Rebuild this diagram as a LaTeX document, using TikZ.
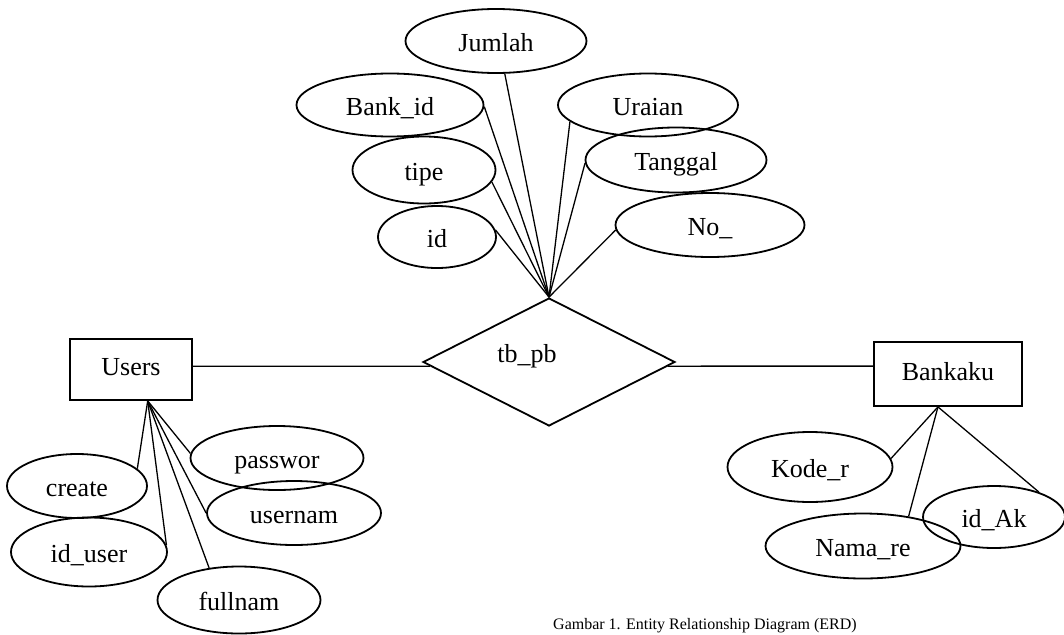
\documentclass[tikz,border=0pt]{standalone}
\usepackage{fontspec}
\setmainfont{Liberation Serif}
\usetikzlibrary{shapes.geometric}
\begin{document}
\begin{tikzpicture}[x=1pt,y=-1pt,
  attr/.style={ellipse,draw,line width=1.8pt,inner sep=0pt,font=\fontsize{26}{30}\selectfont,text height=21pt,text depth=0pt},
  entity/.style={rectangle,draw,line width=1.8pt,inner sep=0pt,font=\fontsize{26}{30}\selectfont,text height=12pt,text depth=0pt},
  relbox/.style={diamond,draw,line width=1.8pt,inner sep=0pt},
  conn/.style={line width=1.3pt},
  lbl/.style={inner sep=0pt,font=\fontsize{26}{30}\selectfont},
  captext/.style={inner sep=0pt,font=\fontsize{16}{19}\selectfont}]
\useasboundingbox (0,0) rectangle (1064,634);
% relationship
\node[relbox,minimum width=252pt,minimum height=128pt] (rel) at (549,362) {};
\node[lbl,anchor=base] (relname) at (527,362) {tb\_pb};
% entities
\node[entity,minimum width=122pt,minimum height=61pt] (users) at (131,369.5) {Users};
\node[entity,minimum width=148pt,minimum height=64pt] (bankaku) at (948,374) {Bankaku};
% attributes of tb_pb
\node[attr,minimum width=181pt,minimum height=64pt] (jumlah) at (496,41) {Jumlah};
\node[attr,minimum width=187pt,minimum height=63pt] (bankid) at (390,105) {Bank\_id};
\node[attr,minimum width=180pt,minimum height=63pt] (uraian) at (648,105) {Uraian};
\node[attr,minimum width=143pt,minimum height=67pt] (tipe) at (424,170) {tipe};
\node[attr,minimum width=181pt,minimum height=65pt] (tanggal) at (676,160) {Tanggal};
\node[attr,minimum width=118pt,minimum height=62pt] (id) at (437,237) {id};
\node[attr,minimum width=189pt,minimum height=64pt] (no) at (710,225) {No\_};
% attributes of Users
\node[attr,minimum width=140pt,minimum height=64pt] (create) at (77,486) {create};
\node[attr,minimum width=156pt,minimum height=69pt] (iduser) at (89,552) {id\_user};
\node[attr,minimum width=163pt,minimum height=67pt] (fullnam) at (239,600) {fullnam};
\node[attr,minimum width=173pt,minimum height=64pt] (passwor) at (277,458) {passwor};
\node[attr,minimum width=174pt,minimum height=64pt] (usernam) at (294,513) {usernam};
% attributes of Bankaku
\node[attr,minimum width=165pt,minimum height=70pt] (koder) at (810,467) {Kode\_r};
\node[attr,minimum width=195pt,minimum height=65pt] (namare) at (863,546) {Nama\_re};
\node[attr,minimum width=142pt,minimum height=62pt] (idak) at (994,517) {id\_Ak};
% caption
\node[captext,anchor=base west] (caption) at (553,629.5) {Gambar 1. Entity Relationship Diagram (ERD)};
% connectors
\draw[conn] (users.3) -- (rel.-178);
\draw[conn] (rel.-2) -- (bankaku.174);
\draw[conn] (rel.north) -- (jumlah.-75);
\draw[conn] (rel.north) -- (bankid.-1);
\draw[conn] (rel.north) -- (tipe.-10);
\draw[conn] (rel.north) -- (id.7);
\draw[conn] (rel.north) -- (uraian.-168);
\draw[conn] (rel.north) -- (tanggal.182);
\draw[conn] (rel.north) -- (no.183);
\draw[conn] (users.-62) -- (create.16);
\draw[conn] (users.-62) -- (iduser.5);
\draw[conn] (users.-62) -- (fullnam.133);
\draw[conn] (users.-62) -- (passwor.177);
\draw[conn] (users.-62) -- (usernam.west);
\draw[conn] (bankaku.-107) -- (koder.6);
\draw[conn] (bankaku.-107) -- (namare.33);
\draw[conn] (bankaku.-107) -- (idak.29);
\end{tikzpicture}
\end{document}
